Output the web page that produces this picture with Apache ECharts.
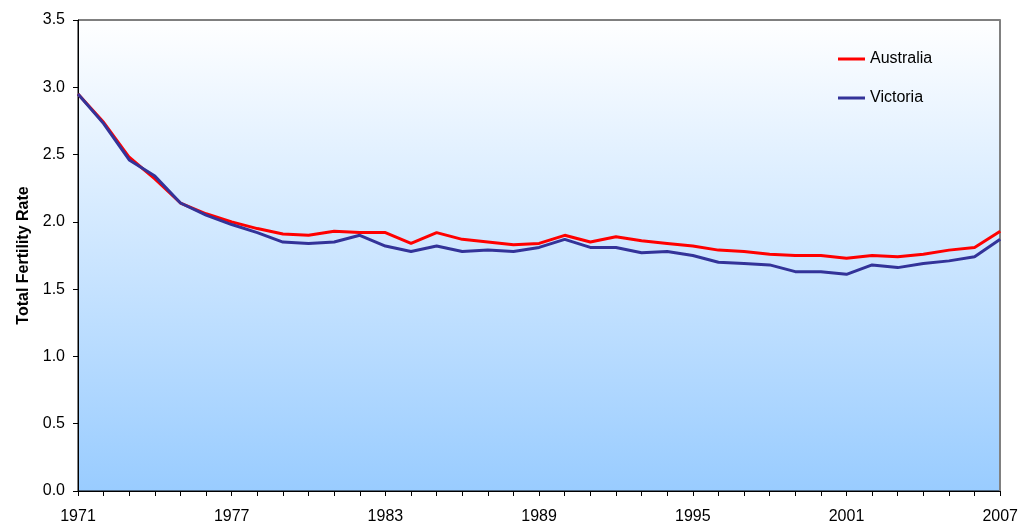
<!DOCTYPE html>
<html>
<head>
<meta charset="utf-8">
<script src="https://cdn.jsdelivr.net/npm/echarts@6/dist/echarts.min.js"></script>
<style>
  html, body { margin: 0; padding: 0; background: #fff; }
  #chart { width: 1021px; height: 525px; }
</style>
</head>
<body>
<div id="chart"></div>
<script>
// Total fertility rate, 1971–2007
const years = [];
for (let y = 1971; y <= 2007; y++) years.push(String(y));

const australia = [
  2.95, 2.74, 2.48, 2.32, 2.14, 2.06, 2.00, 1.95, 1.91, 1.90,
  1.93, 1.92, 1.92, 1.84, 1.92, 1.87, 1.85, 1.83, 1.84, 1.90,
  1.85, 1.89, 1.86, 1.84, 1.82, 1.79, 1.78, 1.76, 1.75, 1.75,
  1.73, 1.75, 1.74, 1.76, 1.79, 1.81, 1.93
];

const victoria = [
  2.95, 2.73, 2.46, 2.34, 2.14, 2.05, 1.98, 1.92, 1.85, 1.84,
  1.85, 1.90, 1.82, 1.78, 1.82, 1.78, 1.79, 1.78, 1.81, 1.87,
  1.81, 1.81, 1.77, 1.78, 1.75, 1.70, 1.69, 1.68, 1.63, 1.63,
  1.61, 1.68, 1.66, 1.69, 1.71, 1.74, 1.87
];

const yTicks = { min: 0, max: 3.5, interval: 0.5 };

const chart = echarts.init(document.getElementById('chart'), null, { renderer: 'canvas' });

const font = 'Liberation Sans, Arial, sans-serif';

chart.setOption({
  animation: false,
  grid: {
    left: 78, right: 19, top: 20, bottom: 34,
    show: true,
    borderColor: '#000', borderWidth: 1,
    backgroundColor: {
      type: 'linear', x: 0, y: 0, x2: 0, y2: 1,
      colorStops: [
        { offset: 0, color: '#ffffff' },
        { offset: 1, color: '#99ccff' }
      ]
    }
  },
  legend: {
    orient: 'vertical',
    left: 833, top: 46,
    itemGap: 23,
    itemWidth: 27, itemHeight: 3,
    icon: 'rect',
    textStyle: { fontFamily: font, fontSize: 16, color: '#000' },
    data: ['Australia', 'Victoria']
  },
  xAxis: {
    type: 'category',
    data: years,
    boundaryGap: false,
    axisLine: { lineStyle: { color: '#000', width: 1 } },
    axisTick: { show: true, interval: 0, length: 5, lineStyle: { color: '#000' } },
    axisLabel: { interval: 5, color: '#000', fontFamily: font, fontSize: 16, margin: 18 },
    splitLine: { show: false }
  },
  yAxis: [
    {
      type: 'value',
      min: yTicks.min, max: yTicks.max, interval: yTicks.interval,
      name: 'Total Fertility Rate',
      nameLocation: 'middle',
      nameGap: 46,
      nameTextStyle: { fontFamily: font, fontSize: 16, fontWeight: 'bold', color: '#000' },
      axisLine: { show: true, lineStyle: { color: '#000', width: 1 } },
      axisTick: { show: true, length: 5, lineStyle: { color: '#000' } },
      axisLabel: {
        color: '#000', fontFamily: font, fontSize: 16, margin: 13,
        formatter: v => v.toFixed(1)
      },
      splitLine: { show: false }
    },
    {
      type: 'value',
      position: 'right',
      min: yTicks.min, max: yTicks.max, interval: yTicks.interval,
      axisLine: { show: true, lineStyle: { color: '#808080', width: 2 } },
      axisTick: { show: false },
      axisLabel: { show: false },
      splitLine: { show: false }
    }
  ],
  series: [
    {
      name: 'Australia',
      type: 'line',
      data: australia,
      symbol: 'none',
      color: '#ff0000',
      lineStyle: { color: '#ff0000', width: 3 },
      z: 3
    },
    {
      name: 'Victoria',
      type: 'line',
      data: victoria,
      symbol: 'none',
      color: '#333399',
      lineStyle: { color: '#333399', width: 3 },
      z: 4
    }
  ]
});
</script>
</body>
</html>
